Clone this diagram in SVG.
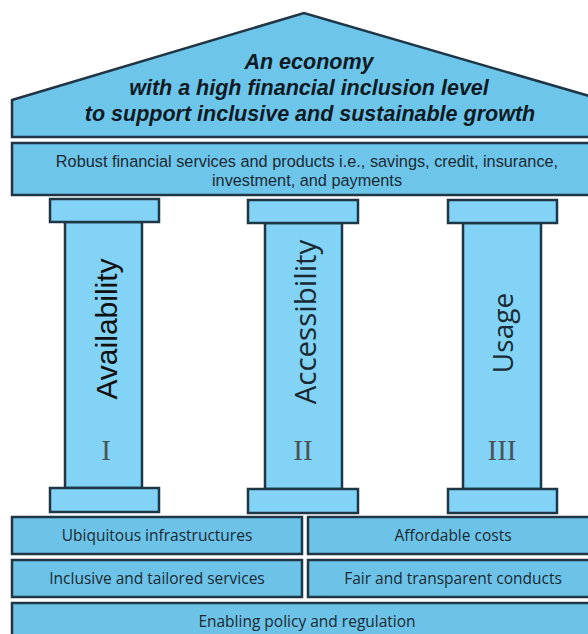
<svg xmlns="http://www.w3.org/2000/svg" width="588" height="634" viewBox="0 0 588 634">
<style>
.sh{fill:#6ec5ea;stroke:#1e3646;stroke-width:2.5}
.pl{fill:#82d3f6;stroke:#1e3646;stroke-width:2.5}
.bx{fill:#6cc2e7;stroke:#1e3646;stroke-width:2.5}
.t{font-family:"Open Sans","Liberation Sans",sans-serif;fill:#1a2a33;text-anchor:middle}
.title{font-family:"Liberation Sans",Arial,sans-serif;font-weight:bold;font-style:italic;font-size:21.5px;fill:#0d1a24;text-anchor:middle}
.lab{font-family:"Open Sans","Liberation Sans",sans-serif;font-size:15.5px;fill:#1a2a33;text-anchor:middle}
.lab2{font-family:"Liberation Sans",Arial,sans-serif;font-size:16.3px;fill:#1a2a33;text-anchor:middle}
.num{font-family:"Liberation Serif",serif;font-size:29px;fill:#4a5458;text-anchor:middle}
</style>
<rect width="588" height="634" fill="#ffffff"/>
<g id="roof">
<polygon class="sh" points="12,137 12,100 304,13 596,98 596,137"/>
<text class="title" x="309" y="69">An economy</text>
<text class="title" x="309" y="95">with a high financial inclusion level</text>
<text class="title" x="310" y="121">to support inclusive and sustainable growth</text>
</g>
<g id="band">
<rect class="sh" x="12" y="143" width="586" height="52"/>
<text class="lab2" x="307" y="167">Robust financial services and products i.e., savings, credit, insurance,</text>
<text class="lab2" x="307" y="186">investment, and payments</text>
</g>
<g id="pillar1">
<rect class="pl" x="65" y="222" width="77" height="266"/>
<rect class="pl" x="50" y="199" width="109" height="23"/>
<rect class="pl" x="50" y="488" width="109" height="24"/>
<text font-family="Liberation Sans, Arial, sans-serif" font-size="30" fill="#111" text-anchor="middle" transform="translate(117,329) rotate(-90)">Availability</text>
<text class="num" x="106" y="460">I</text>
</g>
<g id="pillar2">
<rect class="pl" x="265" y="223" width="77" height="266"/>
<rect class="pl" x="248" y="200" width="110" height="23"/>
<rect class="pl" x="248" y="489" width="110" height="24"/>
<text class="t" font-size="29.5" transform="translate(316,322) rotate(-90)">Accessibility</text>
<text class="num" x="303" y="460">II</text>
</g>
<g id="pillar3">
<rect class="pl" x="463" y="223" width="78" height="266"/>
<rect class="pl" x="448" y="200" width="109" height="23"/>
<rect class="pl" x="448" y="489" width="109" height="24"/>
<text class="t" font-size="28" transform="translate(513,333) rotate(-90)">Usage</text>
<text class="num" x="502" y="460">III</text>
</g>
<g id="ubiquitous">
<rect class="bx" x="12" y="517" width="290" height="37"/>
<text class="lab" x="157" y="541">Ubiquitous infrastructures</text>
</g>
<g id="affordable">
<rect class="bx" x="308" y="517" width="290" height="37"/>
<text class="lab" x="453" y="541">Affordable costs</text>
</g>
<g id="inclusive">
<rect class="bx" x="12" y="560" width="290" height="37"/>
<text class="lab" x="157" y="584">Inclusive and tailored services</text>
</g>
<g id="fair">
<rect class="bx" x="308" y="560" width="290" height="37"/>
<text class="lab" x="453" y="584">Fair and transparent conducts</text>
</g>
<g id="policy">
<rect class="bx" x="12" y="603" width="586" height="40"/>
<text class="lab" x="307" y="627">Enabling policy and regulation</text>
</g>
<g id="connectors"></g>
</svg>
